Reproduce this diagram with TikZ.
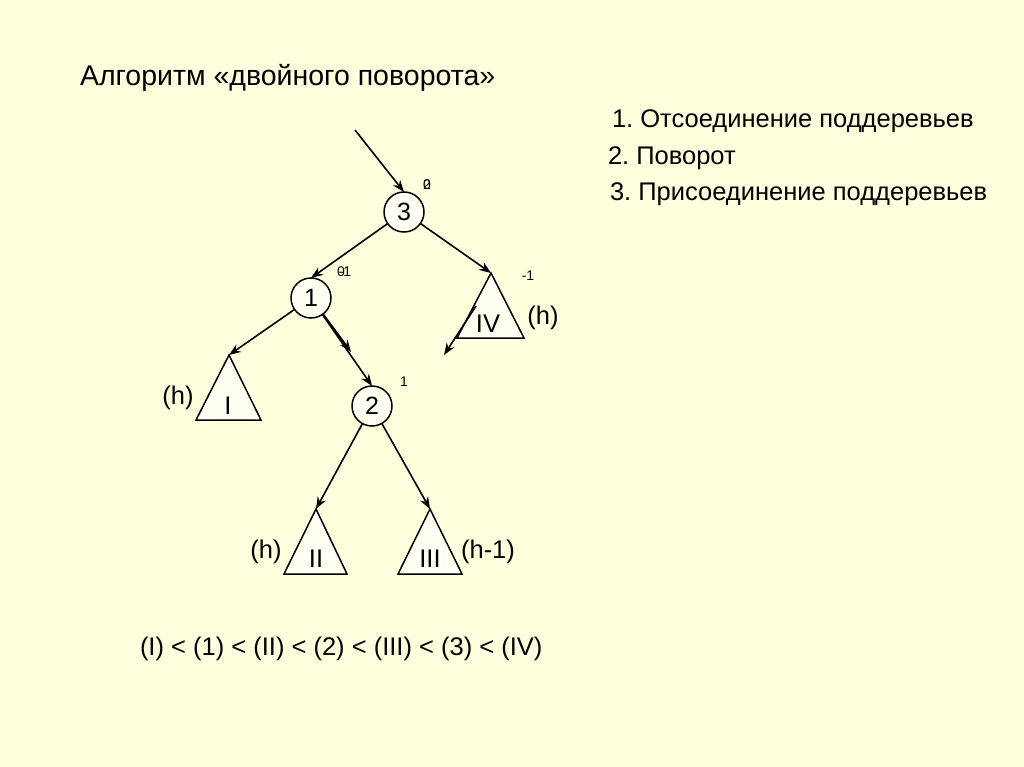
\documentclass[tikz,border=0pt]{standalone}
\usepackage{fontspec}
\setmainfont{Liberation Sans}
\usetikzlibrary{arrows.meta}
\definecolor{bg}{RGB}{255,255,221}
\definecolor{inner}{RGB}{255,255,242}
\begin{document}
\frenchspacing
\begin{tikzpicture}[x=1pt,y=-1pt,
  every node/.style={inner sep=0pt, outer sep=0pt},
  circ/.style={circle, draw, line width=1.5pt, fill=inner, minimum size=40pt, font=\fontsize{25}{27}\selectfont},
  tri/.style={draw, line width=1.5pt, fill=inner, line join=miter},
  edge/.style={line width=1.6pt, -{Stealth[length=12pt,width=9pt]}},
  lbl/.style={font=\fontsize{25.5}{28}\selectfont},
  small/.style={font=\fontsize{14}{15}\selectfont},
  txt/.style={font=\fontsize{25.5}{28}\selectfont, anchor=west}]
\useasboundingbox (0,0) rectangle (1024,767);
\fill[bg] (0,0) rectangle (1024,767);

% texts
\node[txt, font=\fontsize{28.5}{31}\selectfont] (title) at (80,78) {Алгоритм «двойного поворота»};
\node[txt] (s1) at (612,121) {1. Отсоединение поддеревьев};
\node[txt] (s2) at (608,158) {2. Поворот};
\node[txt] (s3) at (610,194) {3. Присоединение поддеревьев};
\node[txt] (order) at (140,649) {(I) < (1) < (II) < (2) < (III) < (3) < (IV)};

% circle nodes
\node[circ] (n3) at (404,212) {3};
\node[circ] (n1) at (311,298) {1};
\node[circ] (n2) at (372,406) {2};

% balance labels
\node[small] (b3a) at (427,185) {0};
\node[small] (b3b) at (427,185) {2};
\node[small] (b1a) at (341,272) {0};
\node[small] (b1b) at (345,272) {-1};
\node[small] (b2) at (404,382) {1};
\node[small] (b4) at (528,276) {-1};

% triangles
\coordinate (IVtop) at (491,273);
\draw[tri] (IVtop) -- (457,338) -- (524,338) -- cycle;
\node[lbl] (IV) at (488,324) {IV};
\node[lbl] (hIV) at (543,318) {(h)};

\coordinate (Itop) at (229,355);
\draw[tri] (Itop) -- (196,420) -- (261,420) -- cycle;
\node[lbl] (I) at (228,406) {I};
\node[lbl] (hI) at (178,398) {(h)};

\coordinate (IItop) at (316,509);
\draw[tri] (IItop) -- (284,574) -- (347,574) -- cycle;
\node[lbl] (II) at (316,559) {II};
\node[lbl] (hII) at (266,552) {(h)};

\coordinate (IIItop) at (430,509);
\draw[tri] (IIItop) -- (398,574) -- (462,574) -- cycle;
\node[lbl] (III) at (430,559) {III};
\node[lbl] (hIII) at (488,552) {(h-1)};

% connectors
\coordinate (start) at (355,130);
\draw[edge] (start) -- (n3.north);
\draw[edge] (n3) -- (IVtop);
\draw[edge] (n3) -- (n1.north);
\draw[edge] (n1) -- (Itop);
\coordinate (mid12) at (351,352);
\draw[edge, line width=2pt] (n1) -- (mid12);
\draw[edge] (n1) -- (n2.north);
\draw[edge] (n2) -- (IItop);
\draw[edge] (n2) -- (IIItop);
\coordinate (ivfrom) at (476,306);
\coordinate (ivto) at (444,355);
\draw[edge] (ivfrom) -- (ivto);
\end{tikzpicture}
\end{document}
